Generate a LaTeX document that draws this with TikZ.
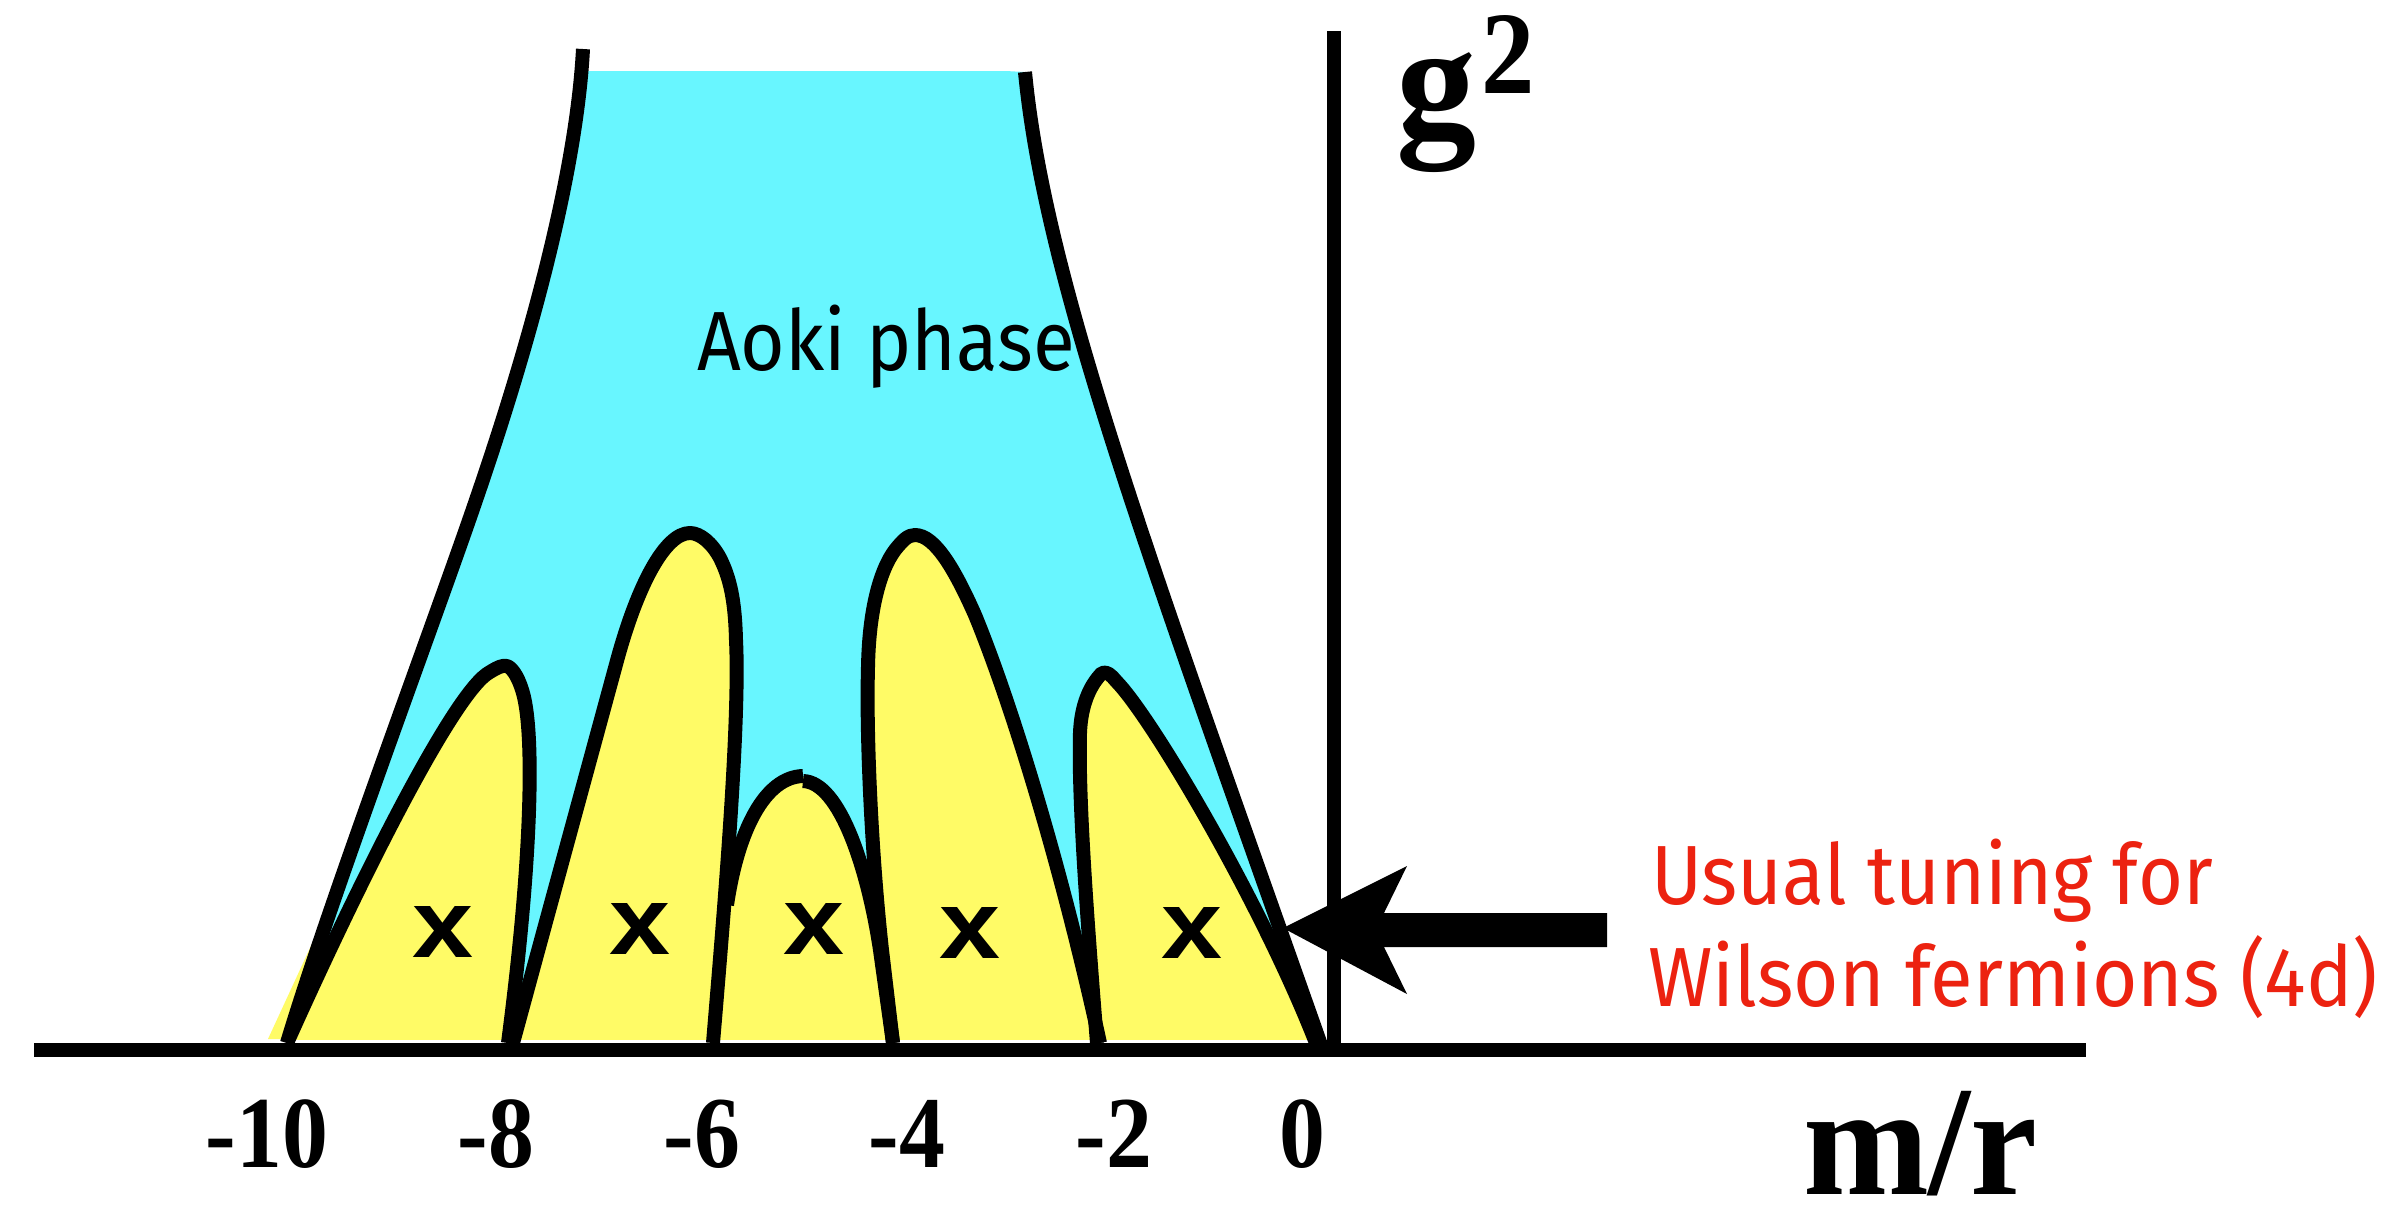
\documentclass[tikz,border=0pt]{standalone}
\usepackage{fontspec}
\usepackage{graphicx}
\newfontfamily\serifbf{Liberation Serif}
\newfontfamily\firafont{Fira Sans}
\newfontfamily\sansbf{Liberation Sans}
\definecolor{aokicol}{RGB}{104,246,255}
\definecolor{humpcol}{RGB}{255,251,102}
\definecolor{tunecol}{RGB}{236,34,16}
\def\outerL{(583,49) .. controls (575,200) and (509,404) .. (476,500) .. controls (435,620) and (330,900) .. (287,1043)}
\def\outerR{(1025,72) .. controls (1045,280) and (1150,560) .. (1321,1045)}
\def\humpA{(287,1043) .. controls (360,880) and (455,690) .. (490,672) .. controls (498,667) and (503,665) .. (507,666) .. controls (513,668) and (520,680) .. (524,697) .. controls (534,740) and (532,860) .. (508,1043)}
\def\humpB{(513,1043) -- (618,657) .. controls (638,585) and (665,533) .. (690,533) .. controls (700,533) and (712,543) .. (720,558) .. controls (730,578) and (735,600) .. (736,640) .. controls (740,720) and (725,900) .. (713,1043)}
\def\humpCl{(727,905) .. controls (738,830) and (765,777) .. (803,776)}
\def\humpCr{(803,781) .. controls (840,782) and (868,870) .. (880,950) -- (893,1043)}
\def\humpD{(893,1043) -- (882,950) .. controls (872,860) and (866,740) .. (868,667) .. controls (869,610) and (880,570) .. (895,550) .. controls (903,540) and (908,535) .. (915,535) .. controls (935,535) and (955,570) .. (975,615) .. controls (1010,700) and (1060,860) .. (1100,1043)}
\def\humpE{(1097,1043) .. controls (1088,930) and (1078,800) .. (1080,733) .. controls (1081,705) and (1090,685) .. (1102,673) .. controls (1107,671) and (1111,675) .. (1116,681) .. controls (1150,715) and (1260,900) .. (1316,1043)}
\begin{document}
\begin{tikzpicture}[x=0.3pt,y=-0.3pt,
  bnd/.style={line width=4.2pt, line join=round},
  axisline/.style={line width=4.4pt},
  txt/.style={inner sep=0pt, outer sep=0pt},
  ticklab/.style={txt, anchor=base, font=\serifbf\bfseries\fontsize{30.6pt}{32pt}\selectfont},
  xmark/.style={txt},
]
\useasboundingbox[fill=white] (0,0) rectangle (2392,1211);
% fills
\begin{scope}
  \clip (0,71) rectangle (2392,1039);
  \fill[aokicol] \outerL -- (1321,1045) .. controls (1150,560) and (1045,280) .. (1025,72) -- cycle;
  \fill[humpcol] (268,1039) -- (316,935) -- (300,1039) -- cycle;
  \fill[humpcol] \humpA -- cycle;
  \fill[humpcol] \humpB -- cycle;
  \fill[humpcol] (713,1043) -- (727,905) .. controls (738,830) and (765,777) .. (803,777) .. controls (840,778) and (868,870) .. (880,950) -- (893,1043) -- cycle;
  \fill[humpcol] \humpD -- cycle;
  \fill[humpcol] \humpE -- cycle;
\end{scope}
% outlines
\draw[bnd] \humpA;
\draw[bnd] \humpB;
\draw[bnd] \humpCl;
\draw[bnd] \humpCr;
\draw[bnd] \humpD;
\draw[bnd] \humpE;
\draw[bnd] \outerL;
\draw[bnd] \outerR;
% axes
\coordinate (xl) at (34,1050);
\coordinate (xr) at (2086,1050);
\coordinate (yt) at (1334,31);
\coordinate (yb) at (1334,1050);
\draw[axisline] (xl) -- (xr);
\draw[line width=4.1pt] (yt) -- (yb);
% arrow
\coordinate (tip) at (1283,928);
\coordinate (tail) at (1607,930);
\fill (tip) -- (1407,866) -- (1384,913) -- (1607,913) -- (1607,947) -- (1384,947) -- (1407,994) -- cycle;
% texts
\node[txt, anchor=base west] (aoki) at (697,370) {\resizebox{113.4pt}{\height}{\firafont\fontsize{25.2pt}{30pt}\selectfont Aoki phase}};
\node[txt, anchor=base west, text=tunecol] (tuneA) at (1651,904) {\resizebox{168.6pt}{\height}{\firafont\fontsize{25.2pt}{30pt}\selectfont Usual tuning for}};
\node[txt, anchor=base west, text=tunecol] (tuneB) at (1648,1006) {\resizebox{219pt}{\height}{\firafont\fontsize{25.2pt}{30pt}\selectfont Wilson fermions (4d)}};
\node[txt, anchor=north west] (gg) at (1396,53) {\resizebox*{24pt}{36pt}{\serifbf\bfseries\fontsize{50pt}{50pt}\selectfont g}};
\node[txt, anchor=north west] (sq) at (1481,15) {\resizebox*{16pt}{23.4pt}{\serifbf\bfseries\fontsize{35pt}{35pt}\selectfont 2}};
\node[txt, anchor=base west] (mr) at (1803,1194) {\raisebox{0pt}[\height][0pt]{\resizebox{70.5pt}{\height}{\serifbf\bfseries\fontsize{47pt}{50pt}\selectfont m/r}}};
% tick labels
\node[ticklab] (t10) at (267,1167) {\scalebox{0.9}[1]{-10}};
\node[ticklab] (t8) at (496,1167) {\scalebox{0.9}[1]{-8}};
\node[ticklab] (t6) at (702,1167) {\scalebox{0.9}[1]{-6}};
\node[ticklab] (t4) at (907,1167) {\scalebox{0.9}[1]{-4}};
\node[ticklab] (t2) at (1114,1167) {\scalebox{0.9}[1]{-2}};
\node[ticklab] (t0) at (1302,1167) {\scalebox{0.9}[1]{0}};
% x marks
\node[xmark] (xa) at (443.5,931.5) {\resizebox{18.3pt}{15.3pt}{\sansbf\bfseries x}};
\node[xmark] (xb) at (640.5,928.5) {\resizebox{18.3pt}{15.3pt}{\sansbf\bfseries x}};
\node[xmark] (xc) at (814,928.5) {\resizebox{18.3pt}{15.3pt}{\sansbf\bfseries x}};
\node[xmark] (xd) at (969.5,933) {\resizebox{18.3pt}{15.3pt}{\sansbf\bfseries x}};
\node[xmark] (xe) at (1191.5,933) {\resizebox{18.3pt}{15.3pt}{\sansbf\bfseries x}};
\end{tikzpicture}
\end{document}
